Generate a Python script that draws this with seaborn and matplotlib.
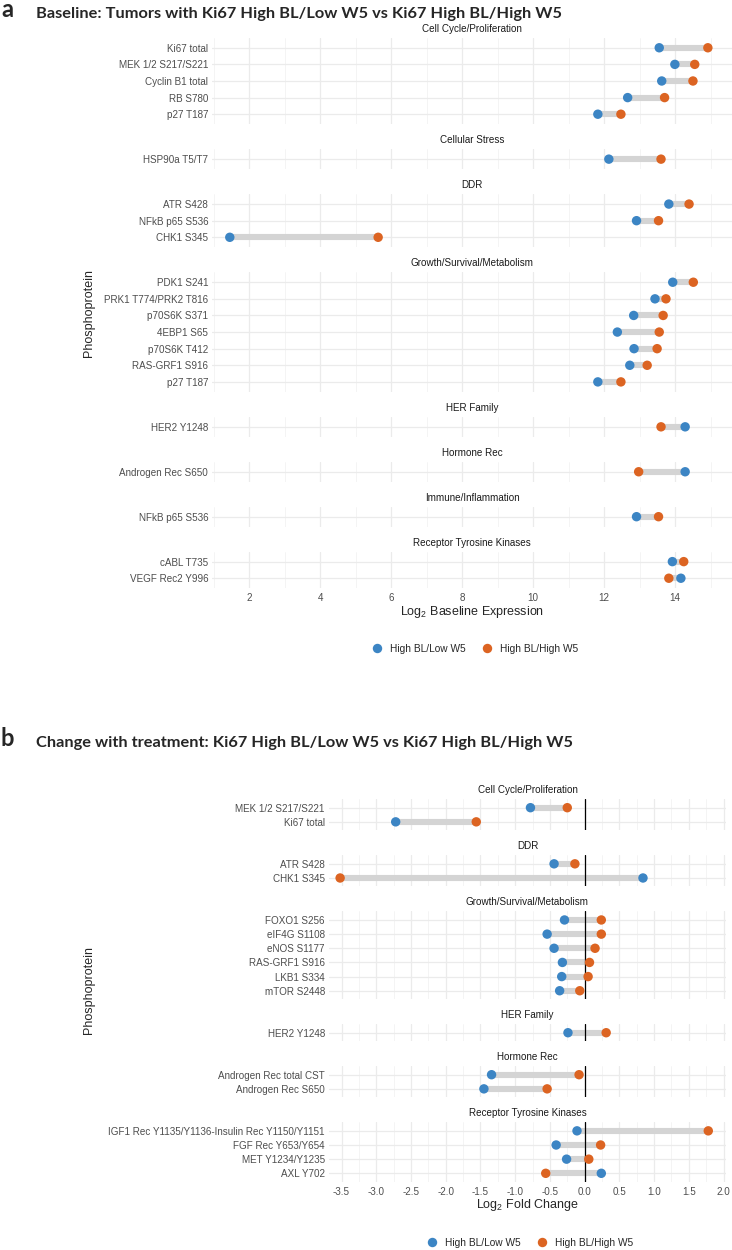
"""
Dumbbell plots: Ki67 High BL/Low W5 vs Ki67 High BL/High W5
"""
import pandas as pd
import matplotlib
matplotlib.use('Agg')
import matplotlib.pyplot as plt
from matplotlib.ticker import FormatStrFormatter
import seaborn as sns

# ---- panel a: baseline expression ----
a_category = (['Cell Cycle/Proliferation'] * 5 + ['Cellular Stress'] + ['DDR'] * 3
              + ['Growth/Survival/Metabolism'] * 7
              + ['HER Family', 'Hormone Rec', 'Immune/Inflammation']
              + ['Receptor Tyrosine Kinases'] * 2)
a_protein = ['Ki67 total', 'MEK 1/2 S217/S221', 'Cyclin B1 total', 'RB S780', 'p27 T187',
             'HSP90a T5/T7',
             'ATR S428', 'NFkB p65 S536', 'CHK1 S345',
             'PDK1 S241', 'PRK1 T774/PRK2 T816', 'p70S6K S371', '4EBP1 S65',
             'p70S6K T412', 'RAS-GRF1 S916', 'p27 T187',
             'HER2 Y1248', 'Androgen Rec S650', 'NFkB p65 S536',
             'cABL T735', 'VEGF Rec2 Y996']
a_low = [13.55, 13.99, 13.62, 12.66, 11.82, 12.13, 13.82, 12.91, 1.45,
         13.93, 13.43, 12.83, 12.37, 12.84, 12.72, 11.82,
         14.28, 14.28, 12.91, 13.92, 14.16]
a_high = [14.92, 14.55, 14.50, 13.70, 12.47, 13.60, 14.39, 13.53, 5.63,
          14.51, 13.74, 13.66, 13.55, 13.49, 13.21, 12.47,
          13.60, 12.97, 13.53, 14.24, 13.82]

# ---- panel b: change with treatment ----
b_category = (['Cell Cycle/Proliferation'] * 2 + ['DDR'] * 2
              + ['Growth/Survival/Metabolism'] * 6 + ['HER Family']
              + ['Hormone Rec'] * 2 + ['Receptor Tyrosine Kinases'] * 4)
b_protein = ['MEK 1/2 S217/S221', 'Ki67 total',
             'ATR S428', 'CHK1 S345',
             'FOXO1 S256', 'eIF4G S1108', 'eNOS S1177', 'RAS-GRF1 S916',
             'LKB1 S334', 'mTOR S2448',
             'HER2 Y1248',
             'Androgen Rec total CST', 'Androgen Rec S650',
             'IGF1 Rec Y1135/Y1136-Insulin Rec Y1150/Y1151', 'FGF Rec Y653/Y654',
             'MET Y1234/Y1235', 'AXL Y702']
b_low = [-0.78, -2.72, -0.44, 0.84, -0.29, -0.54, -0.44, -0.32, -0.33, -0.36,
         -0.24, -1.34, -1.45, -0.11, -0.41, -0.26, 0.24]
b_high = [-0.25, -1.56, -0.14, -3.52, 0.24, 0.24, 0.15, 0.07, 0.05, -0.07,
          0.31, -0.08, -0.54, 1.78, 0.23, 0.06, -0.56]

LOW = 'High BL/Low W5'
HIGH = 'High BL/High W5'
palette = {LOW: '#3C85C4', HIGH: '#DC6422'}

df_a = pd.DataFrame({'category': a_category, 'protein': a_protein, LOW: a_low, HIGH: a_high})
df_b = pd.DataFrame({'category': b_category, 'protein': b_protein, LOW: b_low, HIGH: b_high})

sns.set_theme(style='white')
plt.rcParams['font.family'] = ['Liberation Sans', 'DejaVu Sans']
plt.rcParams['axes.unicode_minus'] = False
plt.rcParams['mathtext.default'] = 'regular'

W, H = 732, 1250
fig = plt.figure(figsize=(W / 100, H / 100), dpi=100)


def draw_panel(df, top, bottom, left, right, xlim, major, minor, fmt=None, zero=False):
    cats = list(dict.fromkeys(df['category']))
    counts = [int((df['category'] == c).sum()) for c in cats]
    gap = 25
    axes_h = (bottom - top) - gap * (len(cats) - 1)
    gs = fig.add_gridspec(len(cats), 1, height_ratios=[n + 0.2 for n in counts],
                          left=left / W, right=right / W, top=1 - top / H,
                          bottom=1 - bottom / H, hspace=gap / (axes_h / len(cats)))
    handles = None
    for i, cat in enumerate(cats):
        ax = fig.add_subplot(gs[i])
        sub = df[df['category'] == cat]
        ax.hlines(sub['protein'], sub[LOW], sub[HIGH], color='#D4D4D4', lw=4.4, zorder=1)
        long = sub.melt(id_vars=['protein'], value_vars=[LOW, HIGH],
                        var_name='group', value_name='value')
        sns.scatterplot(data=long, x='value', y='protein', hue='group', palette=palette,
                        s=46, linewidth=0, ax=ax, zorder=3, legend=True)
        if handles is None:
            handles, labels = ax.get_legend_handles_labels()
        ax.get_legend().remove()
        if zero:
            ax.axvline(0, color='black', lw=0.9, zorder=2)
        ax.set_xlim(*xlim)
        ax.set_ylim(len(sub) - 0.4, -0.6)
        ax.set_xticks(major)
        ax.set_xticks(minor, minor=True)
        if fmt:
            ax.xaxis.set_major_formatter(FormatStrFormatter(fmt))
        ax.grid(which='major', color='#EBEBEB', lw=0.9)
        ax.grid(which='minor', axis='x', color='#F3F3F3', lw=0.6)
        ax.set_axisbelow(True)
        for s in ax.spines.values():
            s.set_visible(False)
        ax.tick_params(axis='both', which='both', length=0, labelsize=7.1,
                       labelcolor='#4D4D4D', pad=3)
        ax.tick_params(axis='x', pad=3.5)
        ax.set_xlabel('')
        ax.set_ylabel('')
        if i < len(cats) - 1:
            ax.tick_params(labelbottom=False)
        ax.annotate(cat, xy=(0.5, 1), xycoords='axes fraction', xytext=(0, 6.5),
                    textcoords='offset points', ha='center', va='center',
                    fontsize=7.1, color='#1A1A1A')
    return handles, labels


def panel_text(letter, title, ybase, top, bottom, left, right, xlabel, handles, labels, leg_y):
    fig.text(1 / W, 1 - ybase / H, letter, fontsize=17, fontweight='bold',
             family=['Lato', 'DejaVu Sans'], va='baseline')
    fig.text(36 / W, 1 - (ybase + 1) / H, title, fontsize=11.8, fontweight='bold',
             family=['Lato', 'DejaVu Sans'], va='baseline')
    cx = (left + right) / 2 / W
    fig.text(cx, 1 - (bottom + 23.5) / H, xlabel, fontsize=9, ha='center', va='center')
    fig.text(88.7 / W, 1 - (top + bottom) / 2 / H, 'Phosphoprotein', fontsize=9,
             rotation=90, ha='center', va='center')
    fig.legend(handles, labels, loc='center', bbox_to_anchor=(cx, 1 - leg_y / H), ncol=2,
               frameon=False, fontsize=7.3, handletextpad=0.3, columnspacing=1.1,
               markerscale=1.0)


# panel a
h, l = draw_panel(df_a, 37.8, 588.2, 212.4, 732, (0.96, 15.6),
                  [2, 4, 6, 8, 10, 12, 14], [1, 3, 5, 7, 9, 11, 13, 15])
panel_text('a', 'Baseline: Tumors with Ki67 High BL/Low W5 vs Ki67 High BL/High W5',
           17, 37.8, 588.2, 212.4, 732, r'Log$_2$ Baseline Expression', h, l, 649)

# panel b
major_b = [-3.5, -3.0, -2.5, -2.0, -1.5, -1.0, -0.5, 0.0, 0.5, 1.0, 1.5, 2.0]
minor_b = [-3.25, -2.75, -2.25, -1.75, -1.25, -0.75, -0.25, 0.25, 0.75, 1.25, 1.75]
h, l = draw_panel(df_b, 799.2, 1181.8, 329, 726, (-3.68, 2.035), major_b, minor_b,
                  fmt='%.1f', zero=True)
panel_text('b', 'Change with treatment: Ki67 High BL/Low W5 vs Ki67 High BL/High W5',
           746.5, 799.2, 1181.8, 329, 726, r'Log$_2$ Fold Change', h, l, 1242.7)

fig.savefig('out.png', dpi=100)
